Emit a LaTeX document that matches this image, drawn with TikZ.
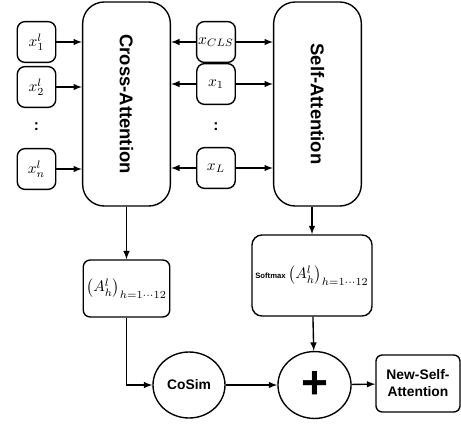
\documentclass[tikz,border=0pt]{standalone}
\usepackage{fontspec}
\setsansfont{Liberation Sans}
\usepackage{amsmath}
\usetikzlibrary{arrows,shapes.geometric}

\begin{document}
\begin{tikzpicture}[->,>=latex,x=0.65pt,y=-0.65pt,line width=0.9pt,
                    token/.style={draw,rectangle,rounded corners=5pt,inner sep=1pt,
                                  minimum width=25pt,minimum height=26.5pt},
                    attn/.style={draw,rectangle,rounded corners=14pt,minimum width=57pt,
                                 minimum height=132.6pt,font=\sffamily\bfseries\large},
                    result/.style={draw,rectangle,inner sep=2pt},
                    op/.style={draw,ellipse,inner sep=0pt},
                    vdots/.style={font=\sffamily\bfseries}]

  \useasboundingbox (0,0) rectangle (461,424);

  \node[token] (X1)  at (36.5,42)  {$x_1^l$};
  \node[token] (X2)  at (36.5,87)  {$x_2^l$};
  \node[vdots] (XD)  at (36.5,127) {:};
  \node[token] (Xn)  at (36.5,169) {$x_n^l$};

  \node[attn]  (CA)  at (126.5,104) {\rotatebox{-90}{Cross-Attention}};

  \node[token] (CLS) at (216,42)  {$x_{CLS}$};
  \node[token] (T1)  at (216,84)  {$x_1$};
  \node[vdots] (TD)  at (216,127) {:};
  \node[token] (TL)  at (216,168) {$x_L$};

  \node[attn]  (SA)  at (317.5,104) {\rotatebox{-90}{Self-Attention}};

  \node[result,rounded corners=4.5pt,minimum width=55.3pt,minimum height=37pt]
        (AH)  at (126.5,288.5) {$\left(A_h^l\right)_{h=1\cdots12}$};
  \node[result,rounded corners=6.5pt,minimum width=78pt,minimum height=52.7pt]
        (SM)  at (312,275.5) {{\sffamily\bfseries\tiny Softmax}\,$\left(A_h^l\right)_{h=1\cdots12}$};

  \node[op,minimum width=46.8pt,minimum height=42.9pt,font=\sffamily\bfseries\small]
        (CS)  at (189,385) {CoSim};
  \node[op,minimum width=47.5pt,minimum height=43.5pt]
        (P)   at (314.5,385) {\sffamily\bfseries\fontsize{30}{30}\selectfont +};
  \node[result,rounded corners=4pt,minimum width=54.6pt,minimum height=37pt,
        align=center,font=\sffamily\bfseries\small]
        (NSA) at (418,383.5) {New-Self-\\Attention};

  \path (X1)  edge (CA.west |- X1)
        (X2)  edge (CA.west |- X2)
        (Xn)  edge (CA.west |- Xn)
        (CLS) edge (CA.east |- CLS)
              edge (SA.west |- CLS)
        (T1)  edge (CA.east |- T1)
              edge (SA.west |- T1)
        (TL)  edge (CA.east |- TL)
              edge (SA.west |- TL);

  \draw (CA) -- (AH);
  \draw (SM.north |- SA.south) -- (SM);
  \draw (AH) |- (CS);
  \draw (CS) -- (P);
  \draw (SM) -- (P);
  \draw (P) -- (NSA);
\end{tikzpicture}
\end{document}
